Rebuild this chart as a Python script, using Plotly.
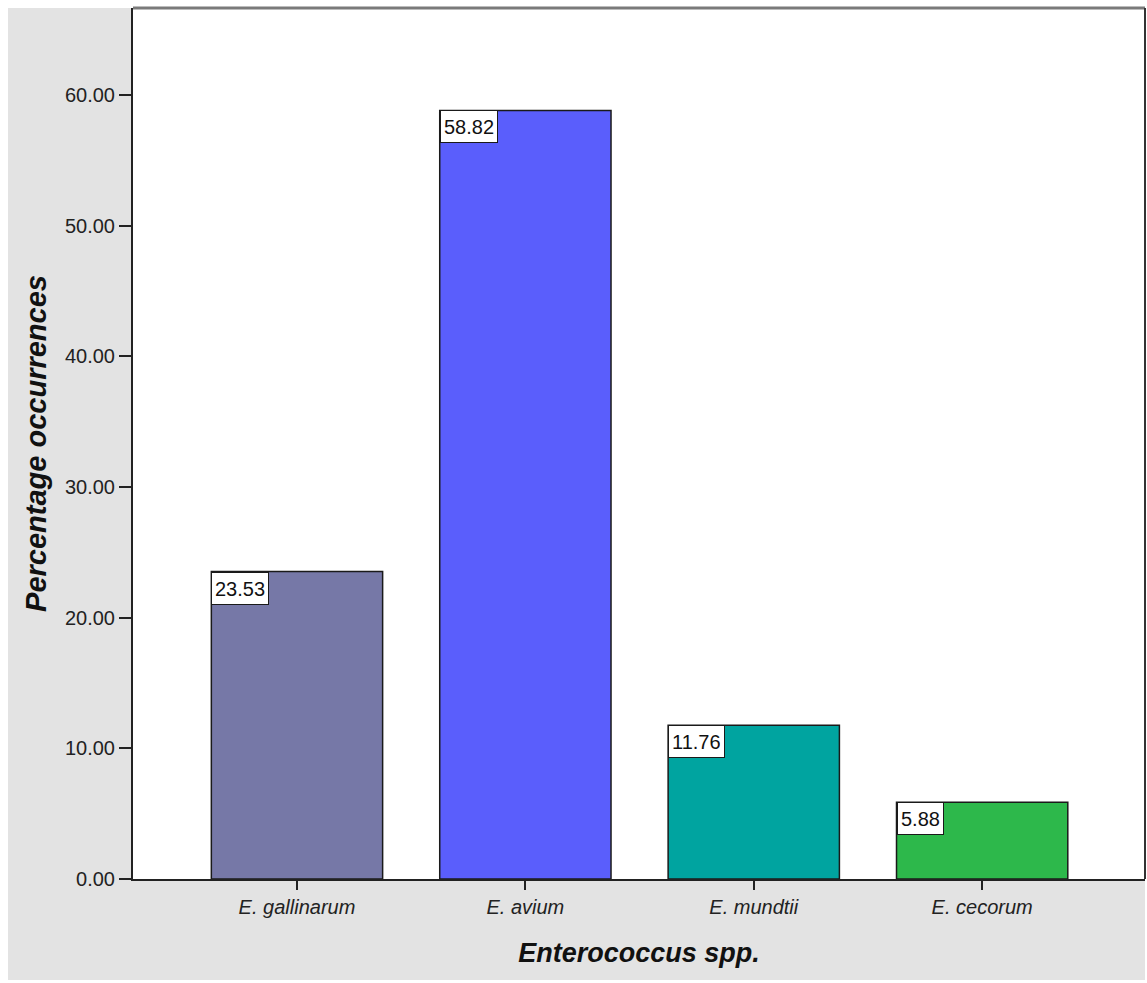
import plotly.graph_objects as go

# Percentage occurrence of each Enterococcus species
species = ["E. gallinarum", "E. avium", "E. mundtii", "E. cecorum"]
percentages = [23.53, 58.82, 11.76, 5.88]
bar_colors = ["#7678a7", "#5a5efc", "#00a4a0", "#2db84b"]
y_ticks = [0, 10, 20, 30, 40, 50, 60]

W, H = 1147, 983
L, R, T, B = 133, 2, 8, 104
BAR_WIDTH = 0.75
FONT = "Arial, Liberation Sans"

fig = go.Figure()
fig.add_trace(go.Bar(
    x=list(range(len(species))),
    y=percentages,
    width=BAR_WIDTH,
    marker=dict(color=bar_colors, line=dict(color="#1a1a1a", width=1.5)),
    hoverinfo="skip",
))

# value boxes pinned to each bar's upper-left corner
for i, v in enumerate(percentages):
    fig.add_annotation(
        x=i - BAR_WIDTH / 2, y=v, xref="x", yref="y",
        text=f"{v:.2f}", showarrow=False,
        xanchor="left", yanchor="top", align="left",
        height=25,
        font=dict(family=FONT, size=20, color="#111"),
        bgcolor="white", bordercolor="#1a1a1a", borderwidth=1, borderpad=3,
    )

pw = W - L - R
ph = H - T - B
gx0 = (8 - L) / pw
gy0 = (H - B - 980) / ph
gray = "#e3e3e3"
# grey frame around the plotting area (left and bottom strips)
fig.add_shape(type="rect", xref="paper", yref="paper", x0=gx0, x1=0, y0=gy0, y1=1,
              fillcolor=gray, line=dict(width=0), layer="below")
fig.add_shape(type="rect", xref="paper", yref="paper", x0=0, x1=1, y0=gy0, y1=0,
              fillcolor=gray, line=dict(width=0), layer="below")
# top and right borders of the plotting area
fig.add_shape(type="line", xref="paper", yref="paper", x0=0, x1=1, y0=1, y1=1,
              line=dict(color="#7a7a7a", width=3))
fig.add_shape(type="line", xref="paper", yref="paper", x0=1, x1=1, y0=0, y1=1,
              line=dict(color="#333", width=2))

fig.update_layout(
    width=W, height=H, autosize=False,
    margin=dict(l=L, r=R, t=T, b=B),
    paper_bgcolor="white", plot_bgcolor="white",
    showlegend=False,
    xaxis=dict(
        range=[-0.718, 3.713],
        tickvals=list(range(len(species))), ticktext=species,
        ticks="outside", ticklen=9, tickwidth=2, tickcolor="#222",
        showline=True, linecolor="#222", linewidth=2,
        showgrid=False, zeroline=False,
        tickfont=dict(family=FONT, size=20, color="#222", style="italic"),
        title=dict(text="Enterococcus spp.", standoff=26,
                   font=dict(family=FONT, size=27, color="#111",
                             weight="bold", style="italic")),
    ),
    yaxis=dict(
        range=[0, 66.66],
        tickvals=y_ticks, tickformat=".2f",
        ticks="outside", ticklen=12, tickwidth=2, tickcolor="#222",
        showline=True, linecolor="#222", linewidth=2,
        showgrid=False, zeroline=False,
        tickfont=dict(family=FONT, size=20, color="#222"),
        title=dict(text="Percentage occurrences", standoff=10,
                   font=dict(family=FONT, size=29, color="#111",
                             weight="bold", style="italic")),
    ),
)

fig.write_html("out.html")
